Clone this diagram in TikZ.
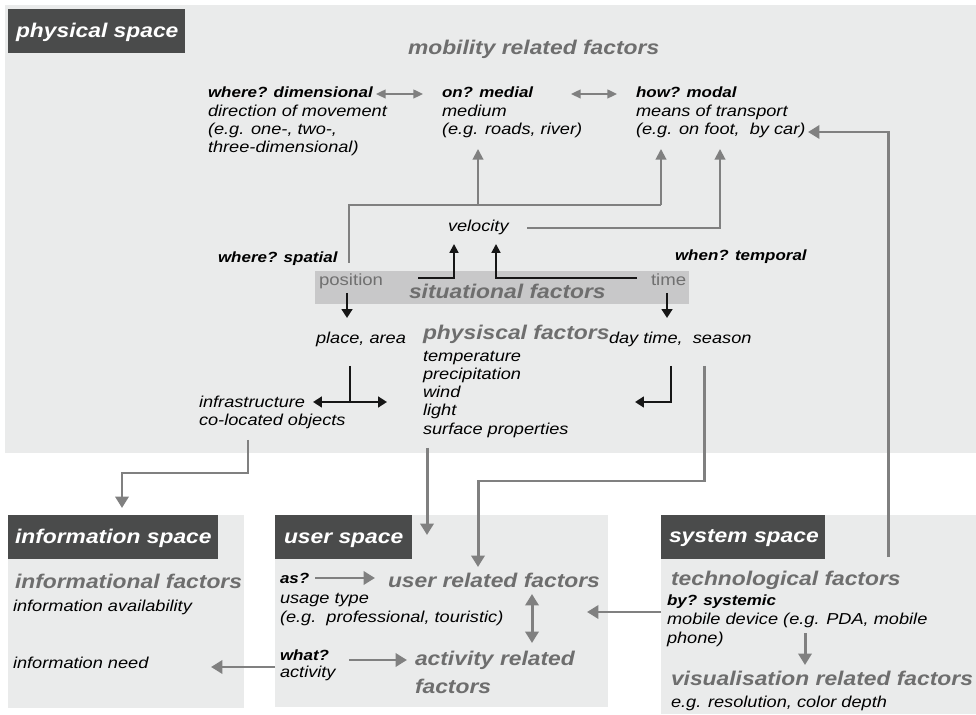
\documentclass[tikz,border=0pt]{standalone}
\usepackage{fontspec}
\setmainfont{Liberation Sans}[FakeStretch=1.15]
\usetikzlibrary{arrows.meta}
\definecolor{bgl}{RGB}{234,235,235}
\definecolor{dark}{RGB}{74,75,75}
\definecolor{band}{RGB}{200,200,201}
\definecolor{headgray}{RGB}{110,110,110}
\definecolor{postgray}{RGB}{112,112,112}
\definecolor{arrgray}{RGB}{128,128,128}
\definecolor{blk}{RGB}{22,22,22}
\tikzset{
 txt/.style={anchor=base west, inner sep=0pt, outer sep=0pt, font=\fontsize{9}{10}\selectfont\itshape},
 qtxt/.style={anchor=base west, inner sep=0pt, outer sep=0pt, font=\fontsize{8.4}{10}\selectfont\bfseries\itshape},
 head/.style={anchor=base west, inner sep=0pt, outer sep=0pt, font=\fontsize{11.3}{13}\selectfont\bfseries\itshape, text=headgray},
 ttl/.style={anchor=base west, inner sep=0pt, outer sep=0pt, font=\fontsize{11.3}{13}\selectfont\bfseries\itshape, text=white},
 gtxt/.style={anchor=base west, inner sep=0pt, outer sep=0pt, font=\fontsize{9.2}{11}\selectfont, text=postgray},
 garr/.style={draw=arrgray, line width=1.7pt, -{Triangle[length=6.5pt,width=7.5pt]}},
 gdarr/.style={draw=arrgray, line width=1.7pt, {Triangle[length=6.5pt,width=7.5pt]}-{Triangle[length=6.5pt,width=7.5pt]}},
 tline/.style={draw=arrgray, line width=1.1pt},
 tarr/.style={draw=arrgray, line width=1.1pt, -{Triangle[length=6pt,width=6pt]}},
 tdarr/.style={draw=arrgray, line width=1.1pt, {Triangle[length=5.5pt,width=5pt]}-{Triangle[length=5.5pt,width=5pt]}},
 barr/.style={draw=blk, line width=1.5pt, -{Triangle[length=5pt,width=6pt]}},
 bline/.style={draw=blk, line width=1.5pt},
 bdarr/.style={draw=blk, line width=1.5pt, {Triangle[length=5pt,width=6pt]}-{Triangle[length=5pt,width=6pt]}},
 bthin/.style={draw=blk, line width=1.1pt, -{Triangle[length=5pt,width=5pt]}},
}
\begin{document}
\begin{tikzpicture}[x=0.02cm, y=-0.02cm]
\useasboundingbox (0,0) rectangle (976,715);
\fill[white] (0,0) rectangle (976,715);

% ---------- panels
\fill[bgl] (5,5) rectangle (976,453);
\fill[dark] (8,9) rectangle (185,53);
\node[ttl] (tphys) at (16,38) {physical space};

\fill[bgl] (8,515) rectangle (244,708);
\fill[dark] (8,515) rectangle (218,559);
\node[ttl] (tinfo) at (15,543) {information space};

\fill[bgl] (275,515) rectangle (608,707);
\fill[dark] (275,515) rectangle (412,559);
\node[ttl] (tuser) at (284,543) {user space};

\fill[bgl] (661,515) rectangle (976,714);
\fill[dark] (661,515) rectangle (825,559);
\node[ttl] (tsys) at (669,542) {system space};

% ---------- mobility
\node[head] (mob) at (408,55) {mobility related factors};

\node[qtxt] (dimq) at (208,98) {where? dimensional};
\node[txt] (dima) at (208,117) {direction of movement};
\node[txt] (dimb) at (208,135) {(e.g. one-, two-,};
\node[txt] (dimc) at (208,153) {three-dimensional)};

\node[qtxt] (medq) at (442,98) {on? medial};
\node[txt] (meda) at (442,117) {medium};
\node[txt] (medb) at (442,135) {(e.g. roads, river)};

\node[qtxt] (modq) at (636,98) {how? modal};
\node[txt] (moda) at (636,117) {means of transport};
\node[txt] (modb) at (636,135) {(e.g. on foot,\ \ by car)};

\coordinate (da1) at (376,94); \coordinate (da2) at (423,94);
\coordinate (db1) at (571,94); \coordinate (db2) at (617,94);
\draw[tdarr] (da1) -- (da2);
\draw[tdarr] (db1) -- (db2);

\node[txt] (vel) at (448,232) {velocity};
\coordinate (velout) at (527,228);
\coordinate (velin) at (720,149);
\draw[tarr] (velout) -| (velin);

\coordinate (posup) at (349,263);
\coordinate (medin) at (478,149);
\coordinate (modin) at (661,149);
\coordinate (junc) at (478,205);
\draw[tline] (posup) |- (661,205);
\draw[tarr] (661,205) -- (modin);
\draw[tarr] (junc) -- (medin);

\coordinate (sysup) at (888,557);
\coordinate (carin) at (808,132);
\draw[garr] (sysup) |- (carin);

% ---------- situational
\node[qtxt] (wsp) at (218,263) {where? spatial};
\node[qtxt] (wtp) at (675,261) {when? temporal};
\fill[band] (315,271) rectangle (689,304);
\node[gtxt] (pos) at (319,286) {position};
\node[gtxt] (time) at (651,286) {time};
\node[head] (sit) at (409,299) {situational factors};

\coordinate (p1) at (418,278); \coordinate (v1) at (454,244);
\coordinate (t1) at (637,278); \coordinate (v2) at (496,244);
\draw[bthin] (p1) -| (v1);
\draw[bthin] (t1) -| (v2);
\coordinate (pd1) at (347,293); \coordinate (pd2) at (347,318);
\coordinate (td1) at (667,293); \coordinate (td2) at (667,318);
\draw[barr] (pd1) -- (pd2);
\draw[barr] (td1) -- (td2);

\node[txt] (place) at (316,344) {place, area};
\node[head] (phys) at (423,340) {physiscal factors};
\node[txt] (day) at (609,344) {day time,\ \ season};
\node[txt] (f1) at (423,362) {temperature};
\node[txt] (f2) at (423,380) {precipitation};
\node[txt] (f3) at (423,398) {wind};
\node[txt] (f4) at (423,416) {light};
\node[txt] (f5) at (423,435) {surface properties};
\node[txt] (infa) at (199,408) {infrastructure};
\node[txt] (infb) at (199,426) {co-located objects};

\coordinate (tt1) at (350,366); \coordinate (tt2) at (350,402);
\coordinate (tl) at (313,402); \coordinate (tr) at (387,402);
\draw[bline] (tt1) -- (tt2);
\draw[bdarr] (tl) -- (tr);
\coordinate (ll1) at (671,366); \coordinate (ll2) at (635,402);
\draw[barr] (ll1) |- (ll2);

\coordinate (s1) at (704,366); \coordinate (s2) at (478,567);
\draw[garr] (s1) |- (478,481) -- (s2);
\coordinate (c1) at (248,440); \coordinate (c2) at (122,508);
\draw[garr] (c1) |- (122,473) -- (c2);
\coordinate (sp1) at (427,448); \coordinate (sp2) at (427,535);
\draw[garr] (sp1) -- (sp2);

% ---------- information space
\node[head] (infh) at (15,588) {informational factors};
\node[txt] (ia) at (13,611) {information availability};
\node[txt] (in) at (13,668) {information need};

% ---------- user space
\node[qtxt] (asq) at (280,583) {as?};
\node[head] (urf) at (388,587) {user related factors};
\node[txt] (ua) at (280,603) {usage type};
\node[txt] (ub) at (280,622) {(e.g.\ \ professional, touristic)};
\node[qtxt] (whq) at (280,660) {what?};
\node[txt] (act) at (280,677) {activity};
\node[head] (arf) at (415,665) {activity related};
\node[head] (arf2) at (415,693) {factors};
\coordinate (as1) at (315,578); \coordinate (as2) at (375,578);
\draw[garr] (as1) -- (as2);
\coordinate (wh1) at (349,660); \coordinate (wh2) at (407,660);
\draw[garr] (wh1) -- (wh2);
\coordinate (ud1) at (532,594); \coordinate (ud2) at (532,643);
\draw[gdarr] (ud1) -- (ud2);
\coordinate (in1) at (275,667); \coordinate (in2) at (211,667);
\draw[garr] (in1) -- (in2);

% ---------- system space
\node[head] (tech) at (671,585) {technological factors};
\node[qtxt] (byq) at (667,605) {by? systemic};
\node[txt] (mda) at (667,624) {mobile device (e.g. PDA, mobile};
\node[txt] (mdb) at (667,643) {phone)};
\node[head] (vis) at (671,685) {visualisation related factors};
\node[txt] (res) at (671,707) {e.g. resolution, color depth};
\coordinate (vd1) at (805,633); \coordinate (vd2) at (805,665);
\draw[garr] (vd1) -- (vd2);
\coordinate (su1) at (661,612); \coordinate (su2) at (587,612);
\draw[garr] (su1) -- (su2);
\end{tikzpicture}
\end{document}
